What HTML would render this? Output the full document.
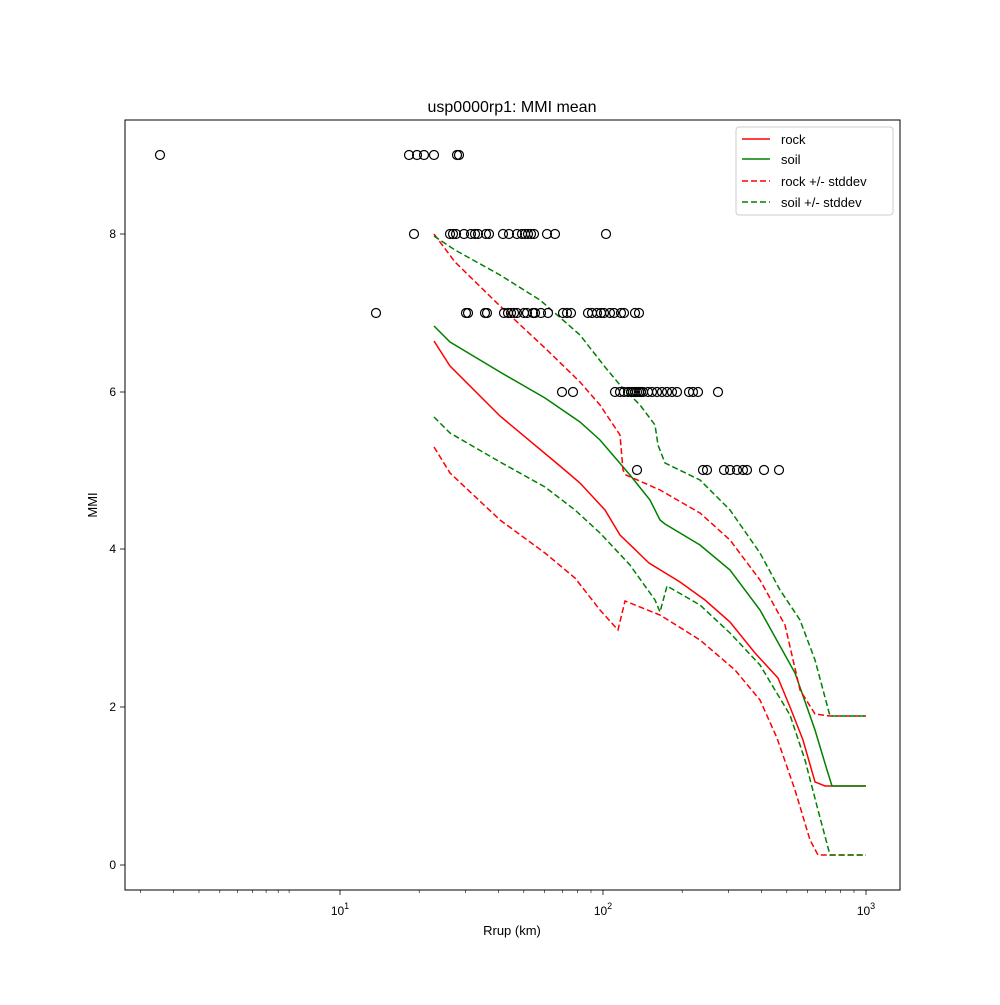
<!DOCTYPE html>
<html><head><meta charset="utf-8"><style>body{margin:0;background:#fff}</style></head><body>
<svg width="1000" height="1000" xmlns="http://www.w3.org/2000/svg" font-family="Liberation Sans, DejaVu Sans, sans-serif">
<rect width="1000" height="1000" fill="#fff"/>
<text x="512" y="112" font-size="16" text-anchor="middle">usp0000rp1: MMI mean</text>
<g fill="none" stroke-width="1.5">
<polyline stroke="#ff0000" points="434,341 450,366 500,416 560,466 580,483 605,510 620,535 649,563 680,582 705,600 730,622 755,653 778,678 790,707 803,740 815,782 825,786 866,786"/>
<polyline stroke="#008000" points="434,326 450,342 500,372 545,398 580,422 600,440 630,475 650,500 660,520 665,524 670,527 700,545 730,570 760,610 795,673 815,730 827,770 832,786 866,786"/>
<g stroke-dasharray="6,3">
<polyline stroke="#ff0000" points="434,234 455,262 500,306 545,348 580,382 600,405 620,435 623,470 626,475 660,490 700,513 730,540 760,580 785,625 800,690 815,714 830,716 866,716"/>
<polyline stroke="#ff0000" points="434,447 450,473 500,520 545,553 575,578 600,610 618,630 625,601 660,615 700,640 735,670 760,700 777,738 795,790 810,840 818,855 830,855 866,855"/>
<polyline stroke="#008000" points="434,236 455,250 500,275 540,300 580,335 605,367 620,385 640,405 655,425 658,445 665,463 700,480 730,510 760,553 780,590 800,620 815,660 830,716 866,716"/>
<polyline stroke="#008000" points="434,417 450,433 500,462 545,487 575,510 600,533 630,565 655,600 660,612 667,586 700,605 730,633 760,665 790,715 805,760 818,810 830,855 866,855"/>
</g>
</g>
<g fill="none" stroke="#000" stroke-width="1.2">
<g transform="translate(0,155)"><circle cx="160" r="4.5"/><circle cx="409" r="4.5"/><circle cx="417" r="4.5"/><circle cx="424" r="4.5"/><circle cx="434" r="4.5"/><circle cx="457" r="4.5"/><circle cx="459" r="4.5"/></g>
<g transform="translate(0,234)"><circle cx="414" r="4.5"/><circle cx="450" r="4.5"/><circle cx="453" r="4.5"/><circle cx="456" r="4.5"/><circle cx="464" r="4.5"/><circle cx="471" r="4.5"/><circle cx="475" r="4.5"/><circle cx="478" r="4.5"/><circle cx="486" r="4.5"/><circle cx="489" r="4.5"/><circle cx="503" r="4.5"/><circle cx="509" r="4.5"/><circle cx="517" r="4.5"/><circle cx="522" r="4.5"/><circle cx="525" r="4.5"/><circle cx="528" r="4.5"/><circle cx="531" r="4.5"/><circle cx="534" r="4.5"/><circle cx="547" r="4.5"/><circle cx="555" r="4.5"/><circle cx="606" r="4.5"/></g>
<g transform="translate(0,313)"><circle cx="376" r="4.5"/><circle cx="466" r="4.5"/><circle cx="468" r="4.5"/><circle cx="485" r="4.5"/><circle cx="487" r="4.5"/><circle cx="504" r="4.5"/><circle cx="508" r="4.5"/><circle cx="511" r="4.5"/><circle cx="514" r="4.5"/><circle cx="517" r="4.5"/><circle cx="524" r="4.5"/><circle cx="527" r="4.5"/><circle cx="533" r="4.5"/><circle cx="535" r="4.5"/><circle cx="541" r="4.5"/><circle cx="548" r="4.5"/><circle cx="563" r="4.5"/><circle cx="567" r="4.5"/><circle cx="571" r="4.5"/><circle cx="588" r="4.5"/><circle cx="592" r="4.5"/><circle cx="597" r="4.5"/><circle cx="601" r="4.5"/><circle cx="604" r="4.5"/><circle cx="610" r="4.5"/><circle cx="614" r="4.5"/><circle cx="621" r="4.5"/><circle cx="624" r="4.5"/><circle cx="635" r="4.5"/><circle cx="639" r="4.5"/></g>
<g transform="translate(0,392)"><circle cx="562" r="4.5"/><circle cx="573" r="4.5"/><circle cx="615" r="4.5"/><circle cx="620" r="4.5"/><circle cx="624" r="4.5"/><circle cx="628" r="4.5"/><circle cx="631" r="4.5"/><circle cx="633" r="4.5"/><circle cx="635" r="4.5"/><circle cx="637" r="4.5"/><circle cx="639" r="4.5"/><circle cx="641" r="4.5"/><circle cx="643" r="4.5"/><circle cx="648" r="4.5"/><circle cx="652" r="4.5"/><circle cx="657" r="4.5"/><circle cx="662" r="4.5"/><circle cx="667" r="4.5"/><circle cx="672" r="4.5"/><circle cx="677" r="4.5"/><circle cx="689" r="4.5"/><circle cx="693" r="4.5"/><circle cx="698" r="4.5"/><circle cx="718" r="4.5"/></g>
<g transform="translate(0,470)"><circle cx="637" r="4.5"/><circle cx="703" r="4.5"/><circle cx="707" r="4.5"/><circle cx="724" r="4.5"/><circle cx="730" r="4.5"/><circle cx="737" r="4.5"/><circle cx="743" r="4.5"/><circle cx="747" r="4.5"/><circle cx="764" r="4.5"/><circle cx="779" r="4.5"/></g>
</g>
<rect x="125" y="120" width="775" height="770" fill="none" stroke="#000" stroke-width="1"/>
<g stroke="#000" stroke-width="0.8">
<line x1="340" y1="890" x2="340" y2="895"/><line x1="603" y1="890" x2="603" y2="895"/><line x1="866" y1="890" x2="866" y2="895"/>
<g stroke-width="0.6">
<line x1="140.6" y1="890" x2="140.6" y2="893"/><line x1="173.5" y1="890" x2="173.5" y2="893"/><line x1="199" y1="890" x2="199" y2="893"/><line x1="219.8" y1="890" x2="219.8" y2="893"/><line x1="237.4" y1="890" x2="237.4" y2="893"/><line x1="252.7" y1="890" x2="252.7" y2="893"/><line x1="266.1" y1="890" x2="266.1" y2="893"/><line x1="278.2" y1="890" x2="278.2" y2="893"/><line x1="289.1" y1="890" x2="289.1" y2="893"/>
<line x1="419.2" y1="890" x2="419.2" y2="893"/><line x1="465.5" y1="890" x2="465.5" y2="893"/><line x1="498.3" y1="890" x2="498.3" y2="893"/><line x1="523.8" y1="890" x2="523.8" y2="893"/><line x1="544.7" y1="890" x2="544.7" y2="893"/><line x1="562.3" y1="890" x2="562.3" y2="893"/><line x1="577.5" y1="890" x2="577.5" y2="893"/><line x1="591" y1="890" x2="591" y2="893"/>
<line x1="682.2" y1="890" x2="682.2" y2="893"/><line x1="728.5" y1="890" x2="728.5" y2="893"/><line x1="761.3" y1="890" x2="761.3" y2="893"/><line x1="786.8" y1="890" x2="786.8" y2="893"/><line x1="807.7" y1="890" x2="807.7" y2="893"/><line x1="825.3" y1="890" x2="825.3" y2="893"/><line x1="840.5" y1="890" x2="840.5" y2="893"/><line x1="854" y1="890" x2="854" y2="893"/>
</g>
<line x1="120" y1="865" x2="125" y2="865"/><line x1="120" y1="707" x2="125" y2="707"/><line x1="120" y1="549" x2="125" y2="549"/><line x1="120" y1="392" x2="125" y2="392"/><line x1="120" y1="234" x2="125" y2="234"/>
</g>
<g font-size="12" text-anchor="middle">
<text x="340" y="915">10<tspan dy="-6" font-size="9">1</tspan></text>
<text x="603" y="915">10<tspan dy="-6" font-size="9">2</tspan></text>
<text x="866" y="915">10<tspan dy="-6" font-size="9">3</tspan></text>
<text x="512" y="935" font-size="13">Rrup (km)</text>
</g>
<g font-size="12" text-anchor="end">
<text x="116" y="869">0</text><text x="116" y="711">2</text><text x="116" y="553">4</text><text x="116" y="396">6</text><text x="116" y="238">8</text>
</g>
<text transform="translate(97,505) rotate(-90)" font-size="13" text-anchor="middle">MMI</text>
<rect x="736" y="127" width="157" height="88" fill="#fff" stroke="#ccc" rx="3"/>
<g stroke-width="1.5">
<line x1="742" y1="139" x2="770" y2="139" stroke="#ff0000"/>
<line x1="742" y1="159" x2="770" y2="159" stroke="#008000"/>
<line x1="742" y1="181" x2="770" y2="181" stroke="#ff0000" stroke-dasharray="6,3"/>
<line x1="742" y1="202" x2="770" y2="202" stroke="#008000" stroke-dasharray="6,3"/>
</g>
<g font-size="13">
<text x="781" y="144">rock</text><text x="781" y="164">soil</text><text x="781" y="186">rock +/- stddev</text><text x="781" y="207">soil +/- stddev</text>
</g>
</svg>
</body></html>
